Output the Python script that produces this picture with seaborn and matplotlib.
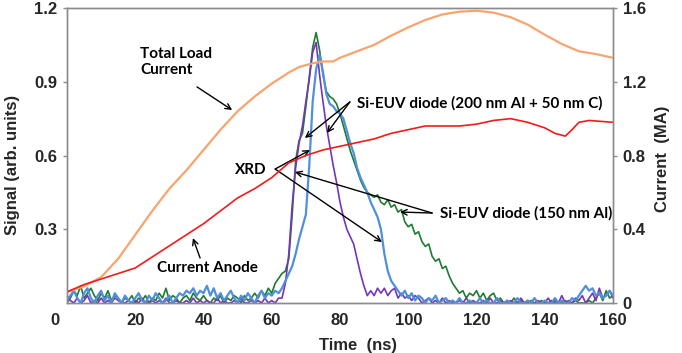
import numpy as np
import pandas as pd
import matplotlib
matplotlib.use("Agg")
import matplotlib.pyplot as plt
import seaborn as sns
from matplotlib.transforms import ScaledTranslation

# time grid of the diode / XRD signals (ns)
t_sig = np.arange(0, 161, 1)

# XRD (purple), arb. units
xrd = [0.03, 0.01, 0.00, 0.02, 0.00, 0.01, 0.03, 0.00, 0.01, 0.00,
       0.02, 0.00, 0.01, 0.00, 0.02, 0.01, 0.00, 0.00, 0.01, 0.00,
       0.01, 0.00, 0.02, 0.00, 0.00, 0.01, 0.00, 0.01, 0.00, 0.02,
       0.00, 0.00, 0.01, 0.00, 0.00, 0.01, 0.00, 0.02, 0.00, 0.01,
       0.00, 0.01, 0.00, 0.00, 0.02, 0.00, 0.01, 0.00, 0.00, 0.01,
       0.00, 0.02, 0.00, 0.00, 0.01, 0.00, 0.01, 0.00, 0.02, 0.00,
       0.01, 0.00, 0.02, 0.02, 0.08, 0.20, 0.40, 0.55, 0.65, 0.72,
       0.82, 0.91, 1.02, 1.06, 0.93, 0.82, 0.72, 0.64, 0.56, 0.49,
       0.41, 0.35, 0.30, 0.27, 0.24, 0.18, 0.12, 0.07, 0.03, 0.05,
       0.03, 0.06, 0.04, 0.06, 0.03, 0.05, 0.06, 0.02, 0.04, 0.02,
       0.03, 0.01, 0.03, 0.02, 0.00, 0.01, 0.02, 0.00, 0.01, 0.00,
       0.02, 0.00, 0.01, 0.00, 0.00, 0.01, 0.00, 0.02, 0.00, 0.01,
       0.00, 0.00, 0.01, 0.00, 0.02, 0.00, 0.00, 0.01, 0.00, 0.00,
       0.01, 0.00, 0.00, 0.02, 0.00, 0.01, 0.00, 0.00, 0.01, 0.00,
       0.00, 0.02, 0.00, 0.01, 0.00, 0.03, 0.00, 0.01, 0.00, 0.02,
       0.01, 0.03, 0.00, 0.02, 0.04, 0.01, 0.06, 0.02, 0.03, 0.05,
       0.02]

# Si-EUV diode (200 nm Al + 50 nm C), blue
euv_c = [0.01, 0.03, 0.05, 0.02, 0.00, 0.04, 0.06, 0.02, 0.00, 0.03,
         0.05, 0.01, 0.03, 0.00, 0.04, 0.02, 0.00, 0.03, 0.01, 0.00,
         0.02, 0.04, 0.01, 0.00, 0.03, 0.01, 0.04, 0.02, 0.00, 0.01,
         0.03, 0.00, 0.02, 0.04, 0.03, 0.05, 0.04, 0.06, 0.03, 0.05,
         0.04, 0.07, 0.03, 0.06, 0.02, 0.04, 0.01, 0.03, 0.05, 0.02,
         0.00, 0.03, 0.01, 0.04, 0.02, 0.00, 0.03, 0.05, 0.02, 0.04,
         0.03, 0.05, 0.04, 0.06, 0.09, 0.12, 0.15, 0.20, 0.26, 0.31,
         0.36, 0.56, 0.82, 0.95, 1.01, 0.94, 0.85, 0.81, 0.80, 0.78,
         0.77, 0.75, 0.70, 0.65, 0.61, 0.55, 0.51, 0.48, 0.45, 0.41,
         0.38, 0.35, 0.30, 0.20, 0.13, 0.09, 0.07, 0.05, 0.03, 0.05,
         0.02, 0.04, 0.01, 0.03, 0.02, 0.00, 0.02, 0.01, 0.03, 0.00,
         0.01, 0.02, 0.00, 0.01, 0.00, 0.02, 0.00, 0.00, 0.01, 0.00,
         0.00, 0.02, 0.00, 0.01, 0.00, 0.00, 0.02, 0.00, 0.00, 0.01,
         0.00, 0.00, 0.02, 0.00, 0.00, 0.01, 0.00, 0.02, 0.00, 0.00,
         0.01, 0.00, 0.00, 0.02, 0.00, 0.01, 0.00, 0.00, 0.02, 0.01,
         0.03, 0.05, 0.07, 0.05, 0.06, 0.03, 0.04, 0.02, 0.03, 0.05,
         0.03]

# Si-EUV diode (150 nm Al), green
euv_al = [0.00, 0.02, 0.05, 0.03, 0.07, 0.02, 0.04, 0.06, 0.03, 0.01,
          0.04, 0.02, 0.05, 0.01, 0.03, 0.02, 0.00, 0.02, 0.01, 0.03,
          0.00, 0.02, 0.01, 0.03, 0.00, 0.02, 0.01, 0.04, 0.02, 0.06,
          0.01, 0.03, 0.02, 0.00, 0.02, 0.03, 0.01, 0.04, 0.02, 0.01,
          0.03, 0.01, 0.00, 0.02, 0.01, 0.03, 0.00, 0.02, 0.01, 0.03,
          0.02, 0.00, 0.03, 0.01, 0.02, 0.04, 0.02, 0.05, 0.03, 0.06,
          0.04, 0.08, 0.10, 0.12, 0.13, 0.18, 0.36, 0.58, 0.66, 0.69,
          0.80, 0.92, 1.04, 1.10, 1.03, 0.93, 0.86, 0.84, 0.83, 0.81,
          0.77, 0.72, 0.67, 0.62, 0.58, 0.54, 0.50, 0.47, 0.45, 0.44,
          0.43, 0.44, 0.41, 0.40, 0.42, 0.39, 0.40, 0.37, 0.38, 0.33,
          0.31, 0.32, 0.28, 0.29, 0.25, 0.23, 0.24, 0.19, 0.17, 0.18,
          0.14, 0.15, 0.11, 0.08, 0.06, 0.04, 0.05, 0.02, 0.04, 0.03,
          0.05, 0.02, 0.04, 0.01, 0.03, 0.04, 0.01, 0.02, 0.00, 0.01,
          0.00, 0.02, 0.00, 0.01, 0.00, 0.00, 0.01, 0.00, 0.00, 0.01,
          0.00, 0.00, 0.01, 0.00, 0.00, 0.00, 0.01, 0.00, 0.00, 0.01,
          0.00, 0.00, 0.00, 0.01, 0.00, 0.02, 0.04, 0.01, 0.05, 0.02,
          0.03]

# currents (MA)
t_load = [0, 5, 10, 15, 20, 25, 30, 35, 40, 45, 50, 55, 60, 65, 68, 72, 75,
          78, 80, 85, 90, 95, 100, 105, 110, 115, 120, 125, 130, 135, 140,
          145, 150, 155, 160]
load_current = [0.06, 0.09, 0.14, 0.24, 0.37, 0.50, 0.62, 0.72, 0.83, 0.94,
                1.04, 1.12, 1.19, 1.25, 1.28, 1.30, 1.31, 1.31, 1.33, 1.365,
                1.40, 1.45, 1.495, 1.535, 1.565, 1.58, 1.585, 1.575, 1.55,
                1.51, 1.455, 1.405, 1.365, 1.35, 1.33]

t_anode = [0, 5, 10, 15, 20, 25, 30, 35, 40, 45, 50, 55, 60, 65, 70, 75, 80,
           85, 90, 95, 100, 105, 110, 115, 120, 125, 130, 135, 140, 143, 146,
           148, 150, 153, 160]
anode_current = [0.06, 0.10, 0.13, 0.16, 0.19, 0.25, 0.31, 0.37, 0.43, 0.50,
                 0.57, 0.62, 0.68, 0.76, 0.80, 0.83, 0.85, 0.87, 0.89, 0.92,
                 0.94, 0.96, 0.96, 0.96, 0.97, 0.99, 1.00, 0.98, 0.95, 0.92,
                 0.905, 0.94, 0.98, 0.99, 0.98]

c_orange = "#F9A46E"
c_red = "#F51A1A"
c_green = "#1E7B32"
c_purple = "#7436B8"
c_blue = "#4F8FDC"
c_spine = "#8C8C8C"

sns.set_style("white")
plt.rcParams['font.family'] = ['Liberation Sans', 'DejaVu Sans']

fig = plt.figure(figsize=(6.82, 3.53), dpi=100)
ax = fig.add_axes([67 / 682, 1 - 303 / 353, 546 / 682, 295 / 353])
ax2 = ax.twinx()

sig = pd.DataFrame({'t': t_sig, 'xrd': xrd, 'euv_c': euv_c, 'euv_al': euv_al})
sns.lineplot(data=sig, x='t', y='euv_al', ax=ax, color=c_green, lw=1.2)
sns.lineplot(data=sig, x='t', y='xrd', ax=ax, color=c_purple, lw=1.2)
sns.lineplot(data=sig, x='t', y='euv_c', ax=ax, color=c_blue, lw=1.6)

sns.lineplot(x=t_load, y=load_current, ax=ax2, color=c_orange, lw=1.6)
sns.lineplot(x=t_anode, y=anode_current, ax=ax2, color=c_red, lw=1.2)

ax.set_xlim(0, 160)
ax.set_ylim(0, 1.2)
ax2.set_ylim(0, 1.6)
ax.set_xticks(np.arange(0, 161, 20))
ax.set_yticks([0.3, 0.6, 0.9, 1.2])
ax.set_yticklabels(['0.3', '0.6', '0.9', '1.2'])
ax2.set_yticks([0, 0.4, 0.8, 1.2, 1.6])
ax2.set_yticklabels(['0', '0.4', '0.8', '1.2', '1.6'])

for a in (ax, ax2):
    for s in a.spines.values():
        s.set_color(c_spine)
        s.set_linewidth(1.0)
    a.tick_params(labelsize=12, width=1, length=3, color=c_spine, direction='out')
    for lab in a.get_xticklabels() + a.get_yticklabels():
        lab.set_fontweight('bold')
ax.tick_params(axis='x', pad=4)
ax.tick_params(axis='y', pad=4)
ax2.tick_params(axis='y', pad=4)
# first time label sits left of the origin
first = ax.get_xticklabels()[0]
first.set_transform(first.get_transform() + ScaledTranslation(-12 / 100, 0, fig.dpi_scale_trans))

ax.set_xlabel('Time  (ns)', fontsize=12, fontweight='bold')
ax.xaxis.set_label_coords(0.533, -0.119)
ax.set_ylabel('Signal (arb. units)', fontsize=12, fontweight='bold')
ax.yaxis.set_label_coords(-0.086, 0.468)
ax2.set_ylabel('Current  (MA)', fontsize=12, fontweight='bold')
ax2.yaxis.set_label_coords(1.077, 0.49)

ann = dict(fontsize=11, fontweight='bold', family=['Lato', 'DejaVu Sans'], color='black')
arw = dict(arrowstyle='->', color='black', lw=1.0, shrinkA=0, shrinkB=0)

ax.text(21.4, 0.98, 'Total Load\nCurrent', ha='left', va='center', linespacing=1.25, **ann)
ax.annotate('', xy=(48.4, 0.785), xytext=(38.1, 0.879), arrowprops=arw)

ax.text(26.4, 0.142, 'Current Anode', ha='left', va='center', **ann)
ax.annotate('', xy=(36.9, 0.264), xytext=(39.0, 0.183), arrowprops=arw)

ax.text(49.2, 0.541, 'XRD', ha='left', va='center', **ann)
ax.annotate('', xy=(71.2, 0.622), xytext=(61.0, 0.545), arrowprops=arw)
ax.annotate('', xy=(92.3, 0.248), xytext=(61.0, 0.545), arrowprops=arw)

ax.text(85.0, 0.814, 'Si-EUV diode (200 nm Al + 50 nm C)', ha='left', va='center', **ann)
ax.annotate('', xy=(69.7, 0.671), xytext=(82.9, 0.818), arrowprops=arw)
ax.annotate('', xy=(76.2, 0.692), xytext=(82.9, 0.818), arrowprops=arw)

ax.text(109.3, 0.366, 'Si-EUV diode (150 nm Al)', ha='left', va='center', **ann)
ax.annotate('', xy=(97.6, 0.370), xytext=(107.0, 0.366), arrowprops=arw)
ax.annotate('', xy=(66.8, 0.533), xytext=(107.0, 0.366), arrowprops=arw)

fig.savefig('out.png', dpi=100)
